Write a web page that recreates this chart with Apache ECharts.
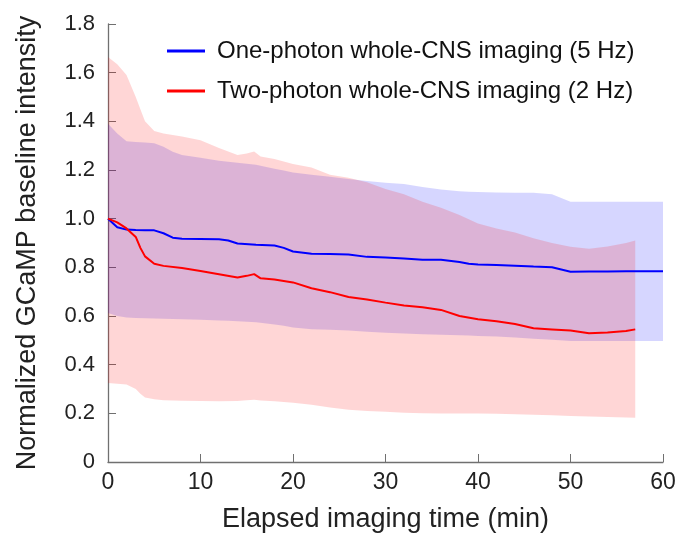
<!DOCTYPE html>
<html>
<head>
<meta charset="utf-8">
<script src="https://cdn.jsdelivr.net/npm/echarts@6/dist/echarts.min.js"></script>
<style>
  html, body { margin: 0; padding: 0; background: #fff; }
  #main { width: 683px; height: 543px; }
</style>
</head>
<body>
<div id="main"></div>
<script>
// one-photon (5 Hz)
var blueT    = [0, 1, 2, 3, 4, 5, 6, 7, 8, 10, 12, 13, 14, 16, 18, 19, 20, 22, 24, 26, 28, 30, 32, 34, 36, 38, 39, 40, 42, 44, 46, 48, 50, 52, 54, 56, 58, 60];
var blueMean = [1.0, 0.965, 0.955, 0.953, 0.952, 0.952, 0.94, 0.922, 0.917, 0.916, 0.915, 0.91, 0.898, 0.893, 0.89, 0.88, 0.865, 0.856, 0.855, 0.853, 0.843, 0.84, 0.836, 0.831, 0.831, 0.822, 0.815, 0.812, 0.81, 0.807, 0.803, 0.8, 0.782, 0.783, 0.783, 0.784, 0.784, 0.784];
var blueHi   = [1.39, 1.35, 1.318, 1.315, 1.313, 1.31, 1.296, 1.275, 1.262, 1.25, 1.238, 1.234, 1.23, 1.222, 1.205, 1.198, 1.19, 1.18, 1.172, 1.163, 1.155, 1.148, 1.142, 1.13, 1.12, 1.113, 1.111, 1.11, 1.108, 1.107, 1.106, 1.1, 1.07, 1.07, 1.07, 1.07, 1.07, 1.07];
var blueLo   = [0.612, 0.6, 0.594, 0.592, 0.591, 0.59, 0.589, 0.588, 0.587, 0.585, 0.582, 0.58, 0.578, 0.574, 0.565, 0.56, 0.553, 0.546, 0.543, 0.54, 0.535, 0.531, 0.528, 0.525, 0.523, 0.521, 0.52, 0.518, 0.516, 0.512, 0.507, 0.502, 0.497, 0.497, 0.497, 0.497, 0.497, 0.497];

// two-photon (2 Hz)
var redT    = [0, 1, 2, 3, 3.5, 4, 5, 6, 8, 10, 12, 14, 15, 15.8, 16.5, 18, 20, 22, 24, 26, 28, 30, 32, 34, 36, 38, 40, 42, 44, 46, 48, 50, 52, 54, 56, 57];
var redMean = [1.0, 0.985, 0.96, 0.925, 0.88, 0.845, 0.815, 0.806, 0.797, 0.785, 0.772, 0.758, 0.765, 0.772, 0.755, 0.75, 0.738, 0.714, 0.698, 0.678, 0.668, 0.655, 0.643, 0.636, 0.625, 0.6, 0.587, 0.578, 0.567, 0.55, 0.545, 0.54, 0.529, 0.532, 0.538, 0.545];
var redHi   = [1.664, 1.635, 1.59, 1.5, 1.45, 1.4, 1.36, 1.35, 1.338, 1.322, 1.29, 1.262, 1.268, 1.276, 1.255, 1.245, 1.225, 1.21, 1.18, 1.168, 1.15, 1.122, 1.1, 1.07, 1.045, 1.015, 0.98, 0.96, 0.943, 0.92, 0.9, 0.885, 0.876, 0.886, 0.9, 0.91];
var redLo   = [0.325, 0.322, 0.318, 0.3, 0.28, 0.265, 0.258, 0.254, 0.252, 0.251, 0.25, 0.251, 0.254, 0.256, 0.253, 0.25, 0.244, 0.235, 0.224, 0.215, 0.21, 0.206, 0.202, 0.2, 0.199, 0.199, 0.199, 0.198, 0.196, 0.194, 0.192, 0.189, 0.187, 0.185, 0.183, 0.182];

var xTicks = [0, 10, 20, 30, 40, 50, 60];
var yTicks = [0, 0.2, 0.4, 0.6, 0.8, 1.0, 1.2, 1.4, 1.6, 1.8];

var names = ['One-photon whole-CNS imaging (5 Hz)', 'Two-photon whole-CNS imaging (2 Hz)'];
var font = '"Liberation Sans", Arial, sans-serif';

function pairs(t, v) {
    return t.map(function (x, i) { return [x, v[i]]; });
}

// polygon for a shaded band, upper edge forward then lower edge back
function band(t, hi, lo, color) {
    return {
        type: 'custom',
        silent: true,
        z: 1,
        data: [[t[0], lo[0]]],
        renderItem: function (params, api) {
            var pts = [];
            for (var i = 0; i < t.length; i++) pts.push(api.coord([t[i], hi[i]]));
            for (var j = t.length - 1; j >= 0; j--) pts.push(api.coord([t[j], lo[j]]));
            return {
                type: 'polygon',
                shape: { points: pts },
                style: { fill: color, stroke: null }
            };
        }
    };
}

var myChart = echarts.init(document.getElementById('main'));
var axisLine = { show: true, lineStyle: { color: '#707070', width: 1.3 } };
var option = {
    backgroundColor: '#fff',
    animation: false,
    textStyle: { fontFamily: font },
    grid: { left: 108, right: 20, top: 24, bottom: 81 },
    legend: {
        orient: 'vertical',
        left: 162,
        top: 34,
        itemGap: 16,
        itemWidth: 38,
        itemHeight: 3,
        icon: 'rect',
        data: names,
        textStyle: { fontFamily: font, fontSize: 24, color: '#111', padding: [0, 0, 0, 7] }
    },
    xAxis: {
        type: 'value',
        min: 0, max: 60, interval: 10,
        name: 'Elapsed imaging time (min)',
        nameLocation: 'middle',
        nameGap: 44,
        nameTextStyle: { fontFamily: font, fontSize: 27, color: '#222' },
        axisLine: axisLine,
        axisTick: { show: true, inside: true, length: 8, lineStyle: { color: '#707070' } },
        axisLabel: {
            fontFamily: font, fontSize: 23, color: '#222', margin: 9,
            customValues: xTicks
        },
        splitLine: { show: false }
    },
    yAxis: {
        type: 'value',
        min: 0, max: 1.8, interval: 0.2,
        name: 'Normalized GCaMP baseline intensity',
        nameLocation: 'middle',
        nameGap: 67,
        nameTextStyle: { fontFamily: font, fontSize: 27, color: '#222' },
        axisLine: axisLine,
        axisTick: { show: true, inside: true, length: 8, lineStyle: { color: '#707070' } },
        axisLabel: {
            fontFamily: font, fontSize: 22, color: '#222', margin: 13,
            formatter: function (v) { return v === 0 ? '0' : v.toFixed(1); }
        },
        splitLine: { show: false }
    },
    series: [
        band(blueT, blueHi, blueLo, 'rgba(0,0,255,0.16)'),
        band(redT, redHi, redLo, 'rgba(255,0,0,0.16)'),
        {
            name: names[0],
            type: 'line',
            z: 3,
            data: pairs(blueT, blueMean),
            showSymbol: false,
            color: '#0000ff',
            lineStyle: { color: '#0000ff', width: 2 }
        },
        {
            name: names[1],
            type: 'line',
            z: 4,
            data: pairs(redT, redMean),
            showSymbol: false,
            color: '#ff0000',
            lineStyle: { color: '#ff0000', width: 2 }
        }
    ]
};
myChart.setOption(option);
</script>
</body>
</html>
